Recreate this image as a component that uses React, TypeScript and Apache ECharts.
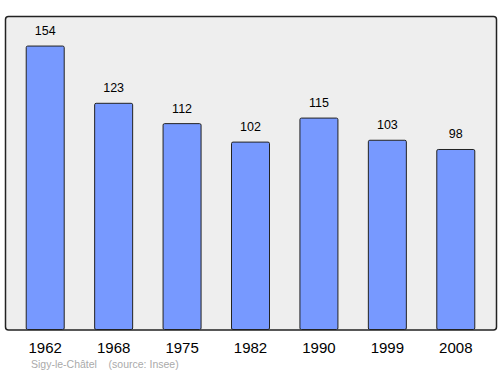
import React, { useEffect, useRef } from "react";
import * as echarts from "echarts";

const years = ["1962", "1968", "1975", "1982", "1990", "1999", "2008"];
const population = [154, 123, 112, 102, 115, 103, 98];
const footer = "Sigy-le-Châtel    (source: Insee)";

export default function App() {
  const ref = useRef<HTMLDivElement>(null);
  useEffect(() => {
    const chart = echarts.init(ref.current!, undefined, { renderer: "svg" });
    chart.setOption({
      animation: false,
      textStyle: { fontFamily: "Liberation Sans, Arial, sans-serif" },
      grid: { left: 11, right: 10, top: 16, bottom: 44 },
      xAxis: {
        type: "category",
        data: years,
        axisLine: { show: false },
        axisTick: { show: false },
        axisLabel: { color: "#000", fontSize: 15, margin: 10 },
      },
      yAxis: {
        type: "value",
        min: 0,
        max: 170,
        show: false,
        splitLine: { show: false },
      },
      graphic: [
        {
          type: "rect",
          z: -10,
          shape: { x: 5.5, y: 16.5, width: 491, height: 313.5, r: 3 },
          style: { fill: "#eeeeee", stroke: "#222", lineWidth: 1.5 },
        },
        {
          type: "text",
          left: 31,
          top: 358,
          style: { text: footer, fill: "#aaaaaa", fontSize: 10.5, fontFamily: "Liberation Sans, Arial, sans-serif" },
        },
      ],
      series: [
        {
          type: "bar",
          data: population,
          barWidth: 39,
          itemStyle: { color: "#7799ff", borderColor: "#222", borderWidth: 1, borderRadius: 1.5 },
          label: {
            show: true,
            position: "top",
            distance: 8,
            color: "#000",
            fontSize: 12.5,
          },
        },
      ],
    });
    return () => chart.dispose();
  }, []);
  return <div ref={ref} style={{ position: "absolute", left: 0, top: 0, width: 500, height: 374 }} />;
}
